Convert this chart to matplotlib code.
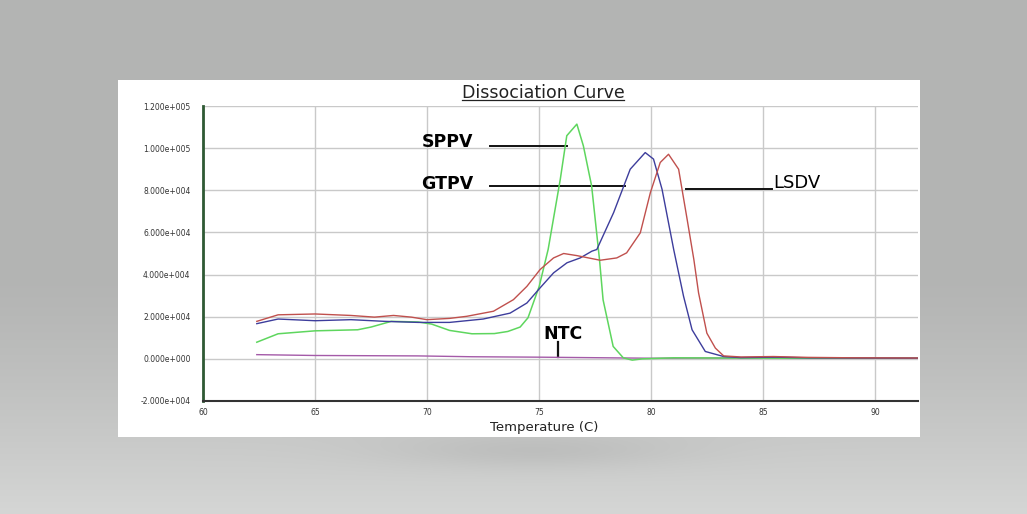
import numpy as np
import matplotlib
matplotlib.use("Agg")
import matplotlib.pyplot as plt
from matplotlib.patches import Rectangle
from matplotlib.ticker import FuncFormatter

# ---- data ----
sppv_t = [62.4, 63.35, 65.0, 66.9, 67.5, 68.4, 69.6, 70.2, 71.0, 72.0, 73.0, 73.6, 74.15, 74.5, 75.0, 75.4,
          75.94, 76.23, 76.68, 76.97, 77.34, 77.69, 77.85, 78.3, 78.75, 79.15, 79.6, 81.0, 83.0, 86.0, 91.9]
sppv_v = [7900, 11900, 13300, 13800, 15100, 17800, 17500, 16500, 13500, 11900, 12000, 13000, 15100, 19500, 34400, 52000,
          85200, 105900, 111400, 101100, 82000, 47100, 28000, 5900, 500, -600, 0, 500, 400, 300, 300]

gtpv_t = [62.4, 63.35, 65.0, 66.6, 68.1, 69.6, 71.0, 72.5, 73.7, 74.45, 75.04, 75.64, 76.24, 76.83, 77.35, 77.57,
          78.32, 79.06, 79.73, 80.1, 80.48, 81.0, 81.44, 81.82, 82.41, 83.23, 84.0, 85.5, 87.0, 89.0, 91.9]
gtpv_v = [16700, 18900, 18100, 18600, 17800, 17300, 17300, 18900, 21700, 26500, 33700, 40800, 45600, 47900, 51100, 51900,
          69400, 90000, 97900, 94800, 80500, 51900, 29700, 13800, 3500, 1100, 600, 800, 500, 400, 300]

lsdv_t = [62.4, 63.35, 65.0, 66.6, 67.65, 68.5, 69.3, 69.99, 71.0, 71.77, 72.96, 73.85, 74.45, 75.04, 75.64, 76.09,
          76.68, 77.72, 78.46, 78.9, 79.51, 79.96, 80.4, 80.77, 81.22, 81.6, 81.9, 82.11, 82.48, 82.86, 83.23,
          84.0, 85.45, 87.0, 89.0, 91.9]
lsdv_v = [17800, 20900, 21300, 20600, 19800, 20600, 19800, 18600, 19200, 20200, 22600, 28100, 34400, 42400, 47900, 50000,
          49000, 46800, 47900, 50300, 59800, 78900, 93200, 97100, 90000, 66200, 47100, 31300, 12200, 5100, 1400,
          900, 1100, 700, 500, 400]

ntc_t = [62.4, 65.0, 69.6, 72.0, 75.0, 78.0, 80.0, 83.0, 85.0, 88.0, 91.9]
ntc_v = [2000, 1600, 1400, 1000, 800, 500, 300, 400, 500, 400, 300]

x_ticks = [60, 65, 70, 75, 80, 85, 90]
y_ticks = [-20000, 0, 20000, 40000, 60000, 80000, 100000, 120000]

W, H = 1027, 514
fig = plt.figure(figsize=(W / 100, H / 100), dpi=100)

# ---- background gradient ----
bg = fig.add_axes([0, 0, 1, 1], zorder=-10)
rows = np.linspace(0, 1, H)[:, None]
cols = np.linspace(0, 1, W)[None, :]
base = 0.705 + 0.13 * np.clip((rows - 0.55) / 0.45, 0, 1) ** 1.2
shadow = -0.05 * np.exp(-((cols - 0.52) / 0.14) ** 2) * np.exp(-((rows - 0.88) / 0.035) ** 2)
img = np.clip(base + shadow + 0 * cols, 0, 1)
bg.imshow(np.dstack([img, img * 1.005, img]).clip(0, 1), aspect="auto", extent=[0, 1, 0, 1], interpolation="bilinear")
bg.set_axis_off()

# white panel
fig.patches.append(Rectangle((118 / W, 1 - 437 / H), (920 - 118) / W, (437 - 80) / H,
                             transform=fig.transFigure, facecolor="white", edgecolor="none", zorder=-5))

ax = fig.add_axes([203 / W, 1 - 401 / H, (918 - 203) / W, (401 - 106) / H])
ax.set_facecolor("white")
ax.set_xlim(60, 91.9)
ax.set_ylim(-20000, 120000)

ax.plot(ntc_t, ntc_v, color="#a45aa8", lw=1.0, zorder=3)
ax.plot(sppv_t, sppv_v, color="#5ed65e", lw=1.1, zorder=4)
ax.plot(gtpv_t, gtpv_v, color="#3d3d9c", lw=1.0, zorder=5)
ax.plot(lsdv_t, lsdv_v, color="#c0504d", lw=1.0, zorder=5)

def fmt(v, pos):
    if v == 0:
        return "0.000e+000"
    e = int(np.floor(np.log10(abs(v))))
    m = v / 10 ** e
    return f"{m:.3f}e{'+' if e >= 0 else '-'}{abs(e):03d}"

ax.set_xticks(x_ticks)
ax.set_yticks(y_ticks)
ax.yaxis.set_major_formatter(FuncFormatter(fmt))
ax.tick_params(length=0, labelsize=5.5, labelcolor="#333333", pad=9)
ax.tick_params(axis="x", pad=5)
ax.grid(True, color="#c9c9c9", lw=1.0)
ax.set_axisbelow(True)
for s in ["top", "right"]:
    ax.spines[s].set_visible(False)
ax.spines["left"].set_color("#2f5a34")
ax.spines["left"].set_linewidth(2.0)
ax.spines["bottom"].set_color("#333333")
ax.spines["bottom"].set_linewidth(1.5)

# x axis label
fig.text(544 / W, 1 - 427 / H, "Temperature (C)", ha="center", va="center",
         fontsize=9.5, family="DejaVu Sans", color="#222222")

# title with underline
t = fig.text(543 / W, 1 - 93 / H, "Dissociation Curve", ha="center", va="center",
             fontsize=12.5, family="DejaVu Sans", color="#222222")
fig.canvas.draw()
bb = t.get_window_extent().transformed(fig.transFigure.inverted())
fig.add_artist(plt.Line2D([bb.x0, bb.x1], [bb.y0 + 0.003, bb.y0 + 0.003], transform=fig.transFigure,
                          color="#222222", lw=0.9))

# annotations
kw_b = dict(family="DejaVu Sans", fontweight="bold", fontsize=12.5, color="black", va="center")
ax.text(69.75, 103000, "SPPV", ha="left", **kw_b)
ax.plot([72.8, 76.25], [101000, 101000], color="#111111", lw=1.4)
ax.text(69.75, 83000, "GTPV", ha="left", **kw_b)
ax.plot([72.8, 78.85], [82000, 82000], color="#111111", lw=1.4)
ax.text(85.45, 83500, "LSDV", ha="left", va="center", family="DejaVu Sans", fontsize=13, color="black")
ax.plot([81.56, 85.4], [80500, 80500], color="#111111", lw=1.4)
ax.text(76.05, 12000, "NTC", ha="center", **kw_b)
ax.plot([75.85, 75.85], [8000, 900], color="#111111", lw=1.6)

fig.savefig("out.png", dpi=100)
